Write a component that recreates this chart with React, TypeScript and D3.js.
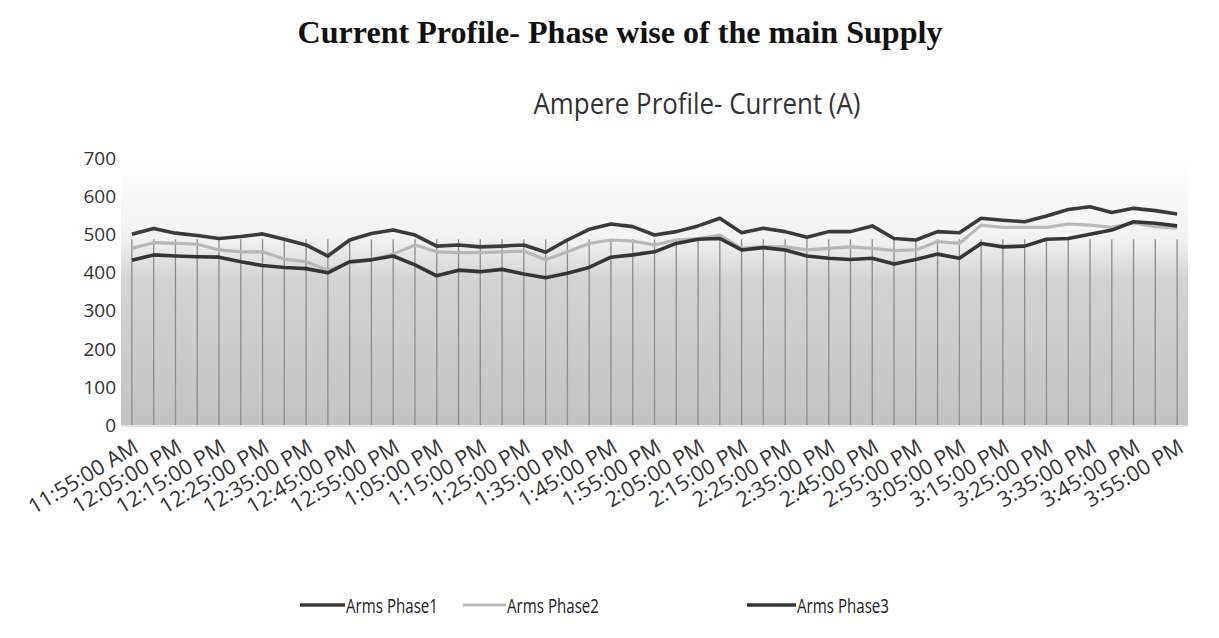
import React from "react";
import * as d3 from "d3";

const times = [
  "11:55:00 AM", "12:00:00 PM", "12:05:00 PM", "12:10:00 PM", "12:15:00 PM", "12:20:00 PM", "12:25:00 PM",
  "12:30:00 PM", "12:35:00 PM", "12:40:00 PM", "12:45:00 PM", "12:50:00 PM", "12:55:00 PM",
  "1:00:00 PM", "1:05:00 PM", "1:10:00 PM", "1:15:00 PM", "1:20:00 PM", "1:25:00 PM",
  "1:30:00 PM", "1:35:00 PM", "1:40:00 PM", "1:45:00 PM", "1:50:00 PM", "1:55:00 PM",
  "2:00:00 PM", "2:05:00 PM", "2:10:00 PM", "2:15:00 PM", "2:20:00 PM", "2:25:00 PM",
  "2:30:00 PM", "2:35:00 PM", "2:40:00 PM", "2:45:00 PM", "2:50:00 PM", "2:55:00 PM",
  "3:00:00 PM", "3:05:00 PM", "3:10:00 PM", "3:15:00 PM", "3:20:00 PM", "3:25:00 PM",
  "3:30:00 PM", "3:35:00 PM", "3:40:00 PM", "3:45:00 PM", "3:50:00 PM", "3:55:00 PM",
];

const phase1 = [
  500, 515, 503, 497, 489, 494, 501, 487, 472, 443, 485, 502, 511, 498, 469, 472, 467,
  469, 472, 453, 485, 513, 527, 520, 498, 507, 522, 542, 504, 516, 507, 492, 507, 507,
  522, 489, 485, 507, 504, 542, 537, 533, 548, 565, 572, 557, 568, 562, 553,
];
const phase2 = [
  463, 478, 476, 474, 459, 454, 454, 435, 428, 406, 424, 433, 448, 472, 454, 452, 452,
  454, 456, 433, 454, 476, 485, 482, 472, 485, 489, 498, 463, 468, 467, 459, 463, 467,
  463, 457, 459, 481, 476, 524, 518, 518, 518, 527, 524, 518, 530, 520, 516,
];
const phase3 = [
  432, 446, 443, 441, 440, 428, 418, 413, 410, 399, 428, 433, 443, 420, 391, 406, 402,
  408, 396, 386, 398, 413, 440, 446, 454, 476, 487, 489, 459, 465, 459, 443, 437, 434,
  437, 422, 434, 448, 437, 476, 467, 469, 487, 489, 500, 511, 533, 529, 522,
];

const seriesNames = ["Arms Phase1", "Arms Phase2", "Arms Phase3"];
const yTicks = [0, 100, 200, 300, 400, 500, 600, 700];

const W = 1219;
const H = 638;
const plotL = 121;
const plotR = 1188;
const plotT = 158;
const plotB = 425;

export default function App() {
  const x = d3.scaleBand<string>().domain(times).range([plotL, plotR]);
  const bw = x.bandwidth();
  const cx = (t: string) => (x(t) as number) + bw / 2;
  const y = d3.scaleLinear().domain([0, 700]).range([plotB, plotT]);

  const line = d3
    .line<number>()
    .x((_, i) => cx(times[i]))
    .y((d) => y(d));

  const series = [
    { name: seriesNames[0], data: phase1, color: "#3b3b3b", width: 3.6 },
    { name: seriesNames[1], data: phase2, color: "#b8b8b8", width: 3.2 },
    { name: seriesNames[2], data: phase3, color: "#353535", width: 3.6 },
  ];
  const drawOrder = [1, 2, 0];

  const legendItems = [
    { lx: 300, tx: 346 },
    { lx: 463, tx: 507 },
    { lx: 747, tx: 797 },
  ];

  return (
    <svg
      width={W}
      height={H}
      style={{ position: "absolute", left: 0, top: 0, background: "#fff" }}
    >
      <defs>
        <linearGradient id="bg" x1="0" y1="0" x2="0" y2="1">
          <stop offset="0%" stopColor="#ffffff" />
          <stop offset="30%" stopColor="#f2f2f2" />
          <stop offset="45%" stopColor="#d4d4d4" />
          <stop offset="100%" stopColor="#c2c2c2" />
        </linearGradient>
      </defs>

      <text
        x={620}
        y={43}
        textAnchor="middle"
        fontFamily="'Liberation Serif', 'Times New Roman', serif"
        fontWeight="bold"
        fontSize={31}
        textLength={645}
        lengthAdjust="spacingAndGlyphs"
        fill="#111"
      >
        Current Profile- Phase wise of the main Supply
      </text>

      <text
        x={697}
        y={114}
        textAnchor="middle"
        fontFamily="'Open Sans', sans-serif"
        fontSize={29}
        textLength={327}
        lengthAdjust="spacingAndGlyphs"
        fill="#333"
      >
        Ampere Profile- Current (A)
      </text>

      <rect x={plotL} y={plotT} width={plotR - plotL} height={plotB - plotT} fill="url(#bg)" />

      {times.map((t) => (
        <line
          key={t}
          x1={cx(t)}
          x2={cx(t)}
          y1={y(500) + 5}
          y2={plotB}
          stroke="#8c8c8c"
          strokeWidth={1.3}
        />
      ))}
      <line x1={plotL} x2={plotR} y1={plotB + 1} y2={plotB + 1} stroke="#d8d8d8" strokeWidth={1.5} />

      {yTicks.map((v) => (
        <text
          key={v}
          x={116}
          y={y(v)}
          dy="0.36em"
          textAnchor="end"
          fontFamily="'Open Sans', sans-serif"
          fontSize={19}
          fill="#333"
        >
          {v}
        </text>
      ))}

      {drawOrder.map((k) => (
        <path
          key={series[k].name}
          d={line(series[k].data) || ""}
          fill="none"
          stroke={series[k].color}
          strokeWidth={series[k].width}
          strokeLinejoin="round"
        />
      ))}

      {times.map((t, i) =>
        i % 2 === 0 ? (
          <text
            key={t}
            transform={`translate(${cx(t) + 8},${plotB + 26}) rotate(-31)`}
            textAnchor="end"
            fontFamily="'Open Sans', sans-serif"
            fontSize={21.5}
            fill="#333"
          >
            {t}
          </text>
        ) : null
      )}

      {series.map((s, i) => (
        <g key={s.name}>
          <line
            x1={legendItems[i].lx}
            x2={legendItems[i].tx - 1}
            y1={605}
            y2={605}
            stroke={s.color}
            strokeWidth={s.width}
          />
          <text
            x={legendItems[i].tx}
            y={606}
            dy="0.36em"
            fontFamily="'Open Sans', sans-serif"
            fontSize={20.5}
            textLength={92}
            lengthAdjust="spacingAndGlyphs"
            fill="#222"
          >
            {s.name}
          </text>
        </g>
      ))}
    </svg>
  );
}
